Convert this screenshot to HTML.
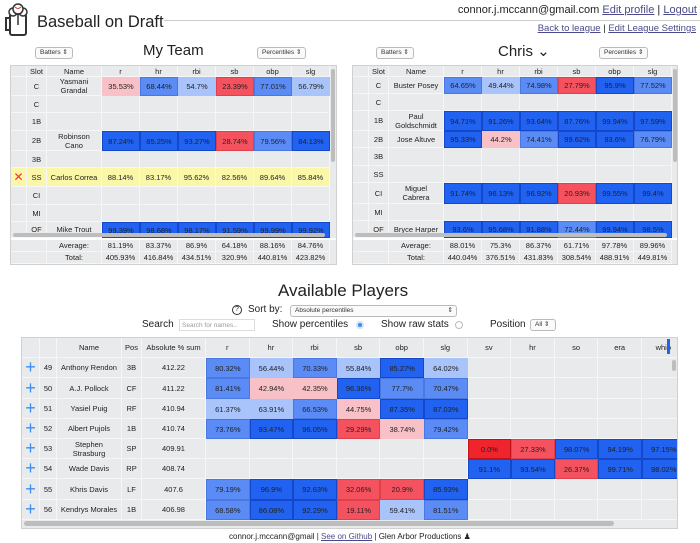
<!DOCTYPE html>
<html><head><meta charset="utf-8">
<style>
*{box-sizing:border-box}
body{margin:0;width:700px;height:543px;background:#fff;font-family:"Liberation Sans",sans-serif;color:#222;position:relative;overflow:hidden}
.a{position:absolute}
.t{position:absolute;white-space:nowrap}
a{color:#4a4a8a;text-decoration:underline}
.sel{position:absolute;border:1px solid #bbb;border-radius:3px;background:#fafafa;font-size:6.5px;line-height:10px;padding-left:4px;color:#333;white-space:nowrap;overflow:hidden}
.box{position:absolute;background:#e9eaec;border:1px solid #d0d0d0;overflow:hidden}
.c{position:absolute;font-size:7.5px;display:flex;align-items:center;justify-content:center;text-align:center;line-height:9px;border-right:1px solid #f6f6f6;border-bottom:1px solid #f6f6f6;color:#222;white-space:pre-line}
.sb{position:absolute;background:#bdbdbd;border-radius:3px}
</style></head><body>
<svg class="a" style="left:4px;top:3px" width="28" height="34" viewBox="0 0 28 34">
<rect x="6" y="11" width="16" height="21" rx="2" fill="#fff" stroke="#333" stroke-width="2"/>
<path d="M6 15 H2 V27 H6" fill="none" stroke="#333" stroke-width="2"/>
<circle cx="9" cy="9" r="4" fill="#fff" stroke="#333" stroke-width="1.5"/>
<circle cx="19" cy="9" r="4" fill="#fff" stroke="#333" stroke-width="1.5"/>
<circle cx="14" cy="6" r="5" fill="#fff" stroke="#333" stroke-width="1.5"/>
<path d="M11 4 Q14 7 17 4" stroke="#d33" fill="none"/>
<line x1="14" y1="11" x2="14" y2="22" stroke="#333" stroke-width="1.5"/>
</svg>
<div class="t" style="left:37px;top:13px;font-size:16.5px">Baseball on Draft</div>
<div class="a" style="left:164px;top:20px;width:536px;height:1px;background:#ccc"></div>
<div class="t" style="right:3px;top:4px;font-size:11px">connor.j.mccann@gmail.com <a>Edit profile</a> | <a>Logout</a></div>
<div class="t" style="right:4px;top:23px;font-size:9.5px"><a>Back to league</a> | <a>Edit League Settings</a></div>

<div class="t" style="left:143px;top:42px;font-size:15px">My Team</div>
<div class="sel" style="left:35px;top:47px;width:38px;height:12px">Batters ⇕</div>
<div class="sel" style="left:257px;top:47px;width:49px;height:12px">Percentiles ⇕</div>
<div class="t" style="left:498px;top:42px;font-size:15px">Chris ⌄</div>
<div class="sel" style="left:376px;top:47px;width:38px;height:12px">Batters ⇕</div>
<div class="sel" style="left:599px;top:47px;width:49px;height:12px">Percentiles ⇕</div>

<div id="left" class="box" style="left:10px;top:65px;width:327px;height:200px"></div>
<div id="right" class="box" style="left:352px;top:65px;width:326px;height:200px"></div>

<div class="t" style="left:278px;top:281px;font-size:17px">Available Players</div>
<div class="a" style="left:232px;top:305px;width:10px;height:10px;border:1px solid #333;border-radius:50%;font-size:7px;line-height:8px;text-align:center">?</div>
<div class="t" style="left:248px;top:304px;font-size:10px">Sort by:</div>
<div class="sel" style="left:290px;top:305px;width:167px;height:12px">Absolute percentiles<span style="float:right;padding-right:3px">⇕</span></div>
<div class="t" style="left:142px;top:319px;font-size:10px">Search</div>
<div class="a" style="left:179px;top:319px;width:76px;height:12px;border:1px solid #ddd;font-size:6.5px;color:#999;padding:2px;white-space:nowrap">Search for names..</div>
<div class="t" style="left:272px;top:319px;font-size:10px">Show percentiles</div>
<div class="a" style="left:356px;top:321px;width:8px;height:8px;border-radius:50%;background:#3b8ef0;border:2px solid #cfe3fb"></div>
<div class="t" style="left:381px;top:319px;font-size:10px">Show raw stats</div>
<div class="a" style="left:455px;top:321px;width:8px;height:8px;border-radius:50%;border:1px solid #bbb"></div>
<div class="t" style="left:490px;top:319px;font-size:10px">Position</div>
<div class="sel" style="left:530px;top:319px;width:26px;height:12px">All ⇕</div>

<div id="avail" class="box" style="left:21px;top:337px;width:657px;height:192px"></div>

<div class="t" style="left:229px;top:532px;font-size:8px">connor.j.mccann@gmail | <a>See on Github</a> | Glen Arbor Productions ♟</div>

<script>
const statCols=["r","hr","rbi","sb","obp","slg"];
const leftSlots=["C","C","1B","2B","3B","SS","CI","MI","OF"];
const leftNames=["Yasmani\nGrandal","","","Robinson\nCano","","Carlos Correa","","","Mike Trout"];
const leftVals=[[35.53,68.44,54.7,23.39,77.01,56.79],null,null,[87.24,85.25,93.27,28.74,79.56,84.13],null,[88.14,83.17,95.62,82.56,89.64,85.84],null,null,[99.39,98.68,98.17,91.59,99.99,99.92]];
const leftAvg=["81.19%","83.37%","86.9%","64.18%","88.16%","84.76%"];
const leftTot=["405.93%","416.84%","434.51%","320.9%","440.81%","423.82%"];
const rightSlots=["C","C","1B","2B","3B","SS","CI","MI","OF"];
const rightNames=["Buster Posey","","Paul\nGoldschmidt","Jose Altuve","","","Miguel\nCabrera","","Bryce Harper"];
const rightVals=[[64.65,49.44,74.98,27.79,95.9,77.52],null,[94.71,91.26,93.64,87.76,99.94,97.59],[95.33,44.2,74.41,99.62,93.6,76.79],null,null,[91.74,96.13,96.92,20.93,99.55,99.4],null,[93.6,95.68,91.88,72.44,99.94,98.5]];
const rightAvg=["88.01%","75.3%","86.37%","61.71%","97.78%","89.96%"];
const rightTot=["440.04%","376.51%","431.83%","308.54%","488.91%","449.81%"];
const availCols=["r","hr","rbi","sb","obp","slg","sv","hr","so","era","whip"];
const availRank=[49,50,51,52,53,54,55,56];
const availNames=["Anthony Rendon","A.J. Pollock","Yasiel Puig","Albert Pujols","Stephen\nStrasburg","Wade Davis","Khris Davis","Kendrys Morales"];
const availPos=["3B","CF","RF","1B","SP","RP","LF","1B"];
const availSum=["412.22","411.22","410.94","410.74","409.91","408.74","407.6","406.98"];
const availVals=[
[80.32,56.44,70.33,55.84,85.27,64.02,null,null,null,null,null],
[81.41,42.94,42.35,96.36,77.7,70.47,null,null,null,null,null],
[61.37,63.91,66.53,44.75,87.35,87.03,null,null,null,null,null],
[73.76,93.47,96.05,29.29,38.74,79.42,null,null,null,null,null],
[null,null,null,null,null,null,0.0,27.33,98.07,94.19,97.15],
[null,null,null,null,null,null,91.1,93.54,26.37,99.71,98.02],
[79.19,96.9,92.63,32.06,20.9,85.93,null,null,null,null,null],
[68.58,86.08,92.29,19.11,59.41,81.51,null,null,null,null,null]];

function color(v){
  if(v>=83)return["#2162f0","#1448c8"];
  if(v>=64.5)return["#5b8cf5","#4a78e0"];
  if(v>=45)return["#a9c3fb","#a9c3fb"];
  if(v>=35)return["#f8c1c7","#f8c1c7"];
  if(v>=10)return["#f5525f","#e0404c"];
  return["#f0242d","#c01018"];
}
function cell(p,x,y,w,h,txt,name,bg,bd,extra){
  const d=document.createElement('div');
  d.className='c';
  
  
  d.style.left=x+'px';d.style.top=y+'px';d.style.width=w+'px';d.style.height=h+'px';
  if(bg){d.style.background=bg;}
  if(bd){d.style.border='1px solid '+bd;}
  if(extra)Object.assign(d.style,extra);
  d.textContent=txt;p.appendChild(d);return d;
}
function team(id,slots,names,vals,avg,tot,rowsY,highlight){
  const p=document.getElementById(id);
  const xs=[0,16,36,91,129,167,205,243,281,319];
  cell(p,0,0,16,11,"","header-blank");
  cell(p,16,0,20,11,"Slot","slot-header");
  cell(p,36,0,55,11,"Name","name-header");
  statCols.forEach((s,i)=>cell(p,xs[i+3],0,38,11,s,s+"-header"));
  slots.forEach((s,r)=>{
    const y=rowsY[r],h=rowsY[r+1]-y;
    const hl=r===highlight?{background:"#fbf7a8"}:null;
    const x0=cell(p,0,y,16,h,r===highlight?"✕":"","remove-cell",null,null,hl);
    if(r===highlight){x0.style.color="#e33";x0.style.fontSize="12px";}
    cell(p,16,y,20,h,s,"slot-cell",null,null,hl);
    cell(p,36,y,55,h,names[r],"player-name",null,null,hl);
    statCols.forEach((c,i)=>{
      const v=vals[r];
      if(v&&r!==highlight){const [bg,bd]=color(v[i]);cell(p,xs[i+3],y,38,h,v[i]+"%",c+"-value",bg,bd);}
      else cell(p,xs[i+3],y,38,h,v?v[i]+"%":"",c+"-value",null,null,hl);
    });
  });
  const sh=document.createElement('div');sh.className='sb';
  
  
  Object.assign(sh.style,{left:'2px',top:'167px',width:'312px',height:'4px'});p.appendChild(sh);
  const sv=document.createElement('div');sv.className='sb';
  
  
  Object.assign(sv.style,{left:'320px',top:'3px',width:'4px',height:'93px'});p.appendChild(sv);
  const bg=document.createElement('div');bg.className='a';
  
  
  Object.assign(bg.style,{left:'0',top:'172px',width:'100%',height:'2px',background:'#fff'});p.appendChild(bg);
  cell(p,36,174,55,12,"Average:","average-label");
  cell(p,36,186,55,12,"Total:","total-label");
  cell(p,0,174,36,12,"","blank");cell(p,0,186,36,12,"","blank");
  avg.forEach((t,i)=>cell(p,xs[i+3],174,38,12,t,statCols[i]+"-average"));
  tot.forEach((t,i)=>cell(p,xs[i+3],186,38,12,t,statCols[i]+"-total"));
}
team('left',leftSlots,leftNames,leftVals,leftAvg,leftTot,[11,30,47,65,85,102,121,139,156,172],5);
team('right',rightSlots,rightNames,rightVals,rightAvg,rightTot,[11,28,45,65,82,100,117,138,155,172],-1);

(function(){
  const p=document.getElementById('avail');
  const fx=[0,18,35,100,120,184];
  const fw=[18,17,65,20,64];
  const hdr=["","","Name","Pos","Absolute % sum"];
  hdr.forEach((h,i)=>cell(p,fx[i],0,fw[i],20,h,"header-"+i));
  availCols.forEach((c,i)=>cell(p,184+i*43.6,0,43.6,20,c,c+"-header"));
  const ry=[20,40,61,81,101,121,141,162,182];
  availNames.forEach((n,r)=>{
    const y=ry[r],h=ry[r+1]-y;
    const pl=cell(p,0,y,18,h,"+","add-player-button");
    pl.style.color="#3b8ef0";pl.style.fontSize="18px";pl.style.fontWeight="300";
    
    cell(p,18,y,17,h,availRank[r],"rank");
    cell(p,35,y,65,h,n,"player-name");
    cell(p,100,y,20,h,availPos[r],"position");
    cell(p,120,y,64,h,availSum[r],"absolute-sum");
    availCols.forEach((c,i)=>{
      const v=availVals[r][i];
      if(v===null)cell(p,184+i*43.6,y,43.6,h,"",c+"-value");
      else{const [bg,bd]=color(v);cell(p,184+i*43.6,y,43.6,h,(v===0?"0.0":v)+"%",c+"-value",bg,bd);}
    });
  });
  const sh=document.createElement('div');sh.className='sb';
  
  
  Object.assign(sh.style,{left:'2px',top:'183px',width:'590px',height:'5px'});p.appendChild(sh);
  const sv=document.createElement('div');sv.className='sb';
  
  
  Object.assign(sv.style,{left:'650px',top:'22px',width:'4px',height:'11px'});p.appendChild(sv);
  const tab=document.createElement('div');tab.className='a';
  
  
  Object.assign(tab.style,{left:'645px',top:'1px',width:'3px',height:'15px',background:'#2162f0'});p.appendChild(tab);
})();
</script>
</body></html>
